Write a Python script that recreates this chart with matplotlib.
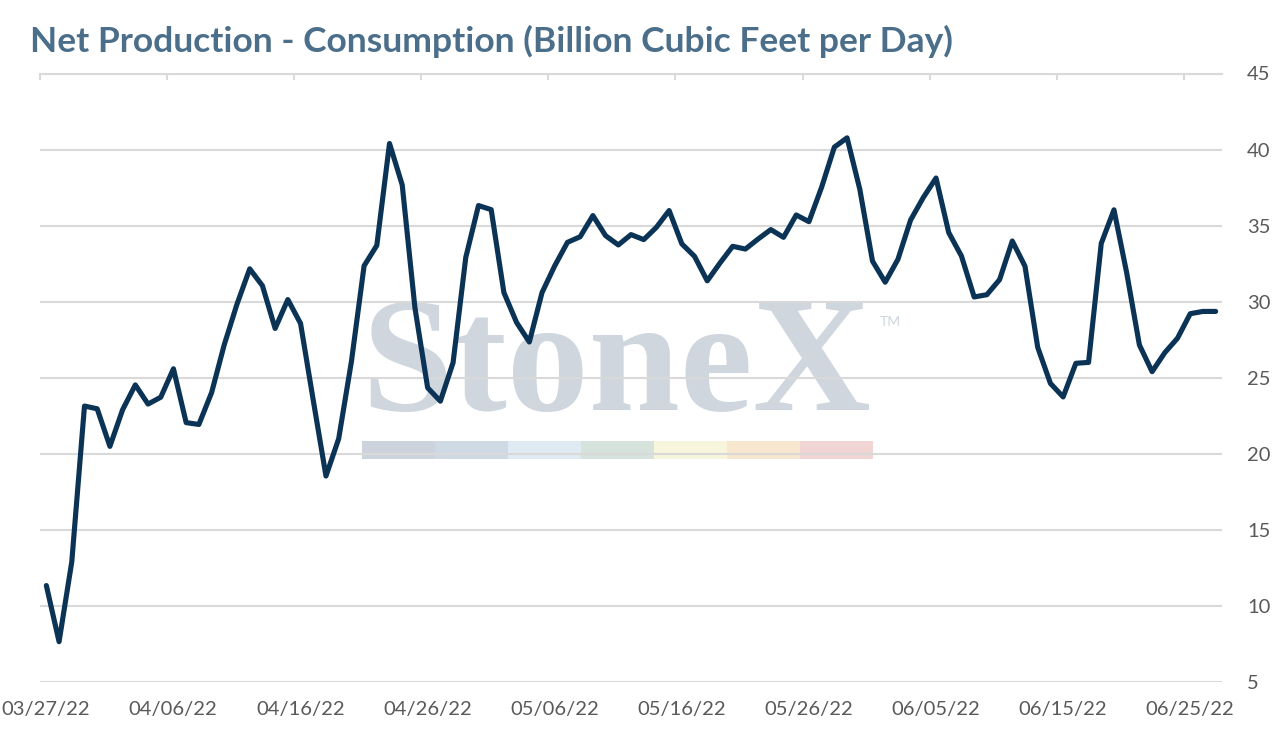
import matplotlib
matplotlib.use("Agg")
import matplotlib.pyplot as plt
import matplotlib.transforms as mtransforms
from matplotlib.patches import Rectangle
import pandas as pd

# ---- data ----
start_date = "2022-03-27"
values = [11.34, 7.65, 12.9, 23.14, 22.96, 20.49, 22.9, 24.53, 23.27, 23.72,
          25.59, 22.05, 21.93, 24.02, 27.18, 29.84, 32.16, 31.05, 28.24, 30.14,
          28.57, 23.52, 18.54, 20.99, 26.05, 32.36, 33.7, 40.4, 37.67, 29.6,
          24.34, 23.46, 25.99, 32.91, 36.32, 36.05, 30.6, 28.63, 27.35, 30.6,
          32.36, 33.9, 34.27, 35.66, 34.34, 33.73, 34.41, 34.08, 34.89, 35.99,
          33.8, 32.98, 31.37, 32.54, 33.64, 33.46, 34.12, 34.74, 34.23, 35.7,
          35.26, 37.53, 40.16, 40.77, 37.4, 32.67, 31.28, 32.78, 35.37, 36.85,
          38.13, 34.54, 33.0, 30.31, 30.46, 31.45, 33.99, 32.33, 27.0, 24.63,
          23.74, 25.95, 26.01, 33.83, 36.04, 31.9, 27.16, 25.4, 26.65, 27.6,
          29.21, 29.36, 29.36]
dates = pd.date_range(start_date, periods=len(values), freq="D")
x_tick_labels = ["03/27/22", "04/06/22", "04/16/22", "04/26/22", "05/06/22",
                 "05/16/22", "05/26/22", "06/05/22", "06/15/22", "06/25/22"]
y_ticks = [5, 10, 15, 20, 25, 30, 35, 40, 45]
title = "Net Production - Consumption (Billion Cubic Feet per Day)"

# ---- figure ----
W, H = 1283, 729
fig = plt.figure(figsize=(W / 100, H / 100), dpi=100)
fig.patch.set_facecolor("white")

def fx(px):
    return px / W

def fy(py):
    return 1 - py / H

ax_l, ax_r, ax_t, ax_b = 40, 1222, 73.5, 682
ax = fig.add_axes([fx(ax_l), fy(ax_b), fx(ax_r - ax_l), (ax_b - ax_t) / H])

half = pd.Timedelta(hours=12)
ax.set_xlim(dates[0] - half, dates[-1] + half)
ax.set_ylim(5, 45)

# line
ax.plot(dates, values, color="#0b3356", lw=3.7, solid_joinstyle="round",
        solid_capstyle="round", zorder=3)

# grid
ax.set_axisbelow(True)
ax.set_yticks(y_ticks)
ax.yaxis.grid(True, color="#d9d9d9", lw=1.5)
ax.xaxis.grid(False)

for s in ["left", "right", "bottom"]:
    ax.spines[s].set_visible(False)
ax.spines["top"].set_color("#d9d9d9")
ax.spines["top"].set_linewidth(1.5)

tick_pos = [dates[0] - half + pd.Timedelta(days=10 * k) for k in range(len(x_tick_labels))]
ax.set_xticks(tick_pos)
ax.set_xticklabels(x_tick_labels)
ax.tick_params(axis="x", which="both", bottom=False, top=True, labelbottom=True,
               labeltop=False, direction="in", length=4, color="#d9d9d9", width=1.5,
               pad=14, labelsize=14.5, labelcolor="#595959")
shift = mtransforms.ScaledTranslation(6 / 100, 0, fig.dpi_scale_trans)
for lab in ax.get_xticklabels():
    lab.set_fontfamily("Lato")
    lab.set_transform(lab.get_transform() + shift)

ax.yaxis.tick_right()
ax.tick_params(axis="y", length=0, pad=18, labelsize=14.5, labelcolor="#595959")
for lab in ax.get_yticklabels():
    lab.set_fontfamily("Lato")

# watermark
wm = "#cfd6de"
ax.text(fx(361), fy(410), "StoneX", transform=fig.transFigure, fontsize=118,
        family="Liberation Serif", fontweight="bold", color=wm, ha="left",
        va="baseline", zorder=0.1)
ax.text(fx(880), fy(326), "TM", transform=fig.transFigure, fontsize=10,
        family="Lato", color=wm, ha="left", va="baseline", zorder=0.1)
bar_colors = ["#cdd3dc", "#cfd9e4", "#dfeaf2", "#d5e3dc", "#f7f5dc", "#f8e7cf", "#f1d4d4"]
seg_w = (873 - 362) / len(bar_colors)
for i, c in enumerate(bar_colors):
    ax.add_patch(Rectangle((fx(362 + i * seg_w), fy(459)), fx(seg_w), (459 - 441) / H,
                           transform=fig.transFigure, facecolor=c, edgecolor="none",
                           zorder=0.1, clip_on=False))

# title
fig.text(fx(30), fy(52), title, fontsize=25.5, fontweight="bold", family="Lato",
         color="#4b6f8a", ha="left", va="baseline")

fig.savefig("out.png", dpi=100)
